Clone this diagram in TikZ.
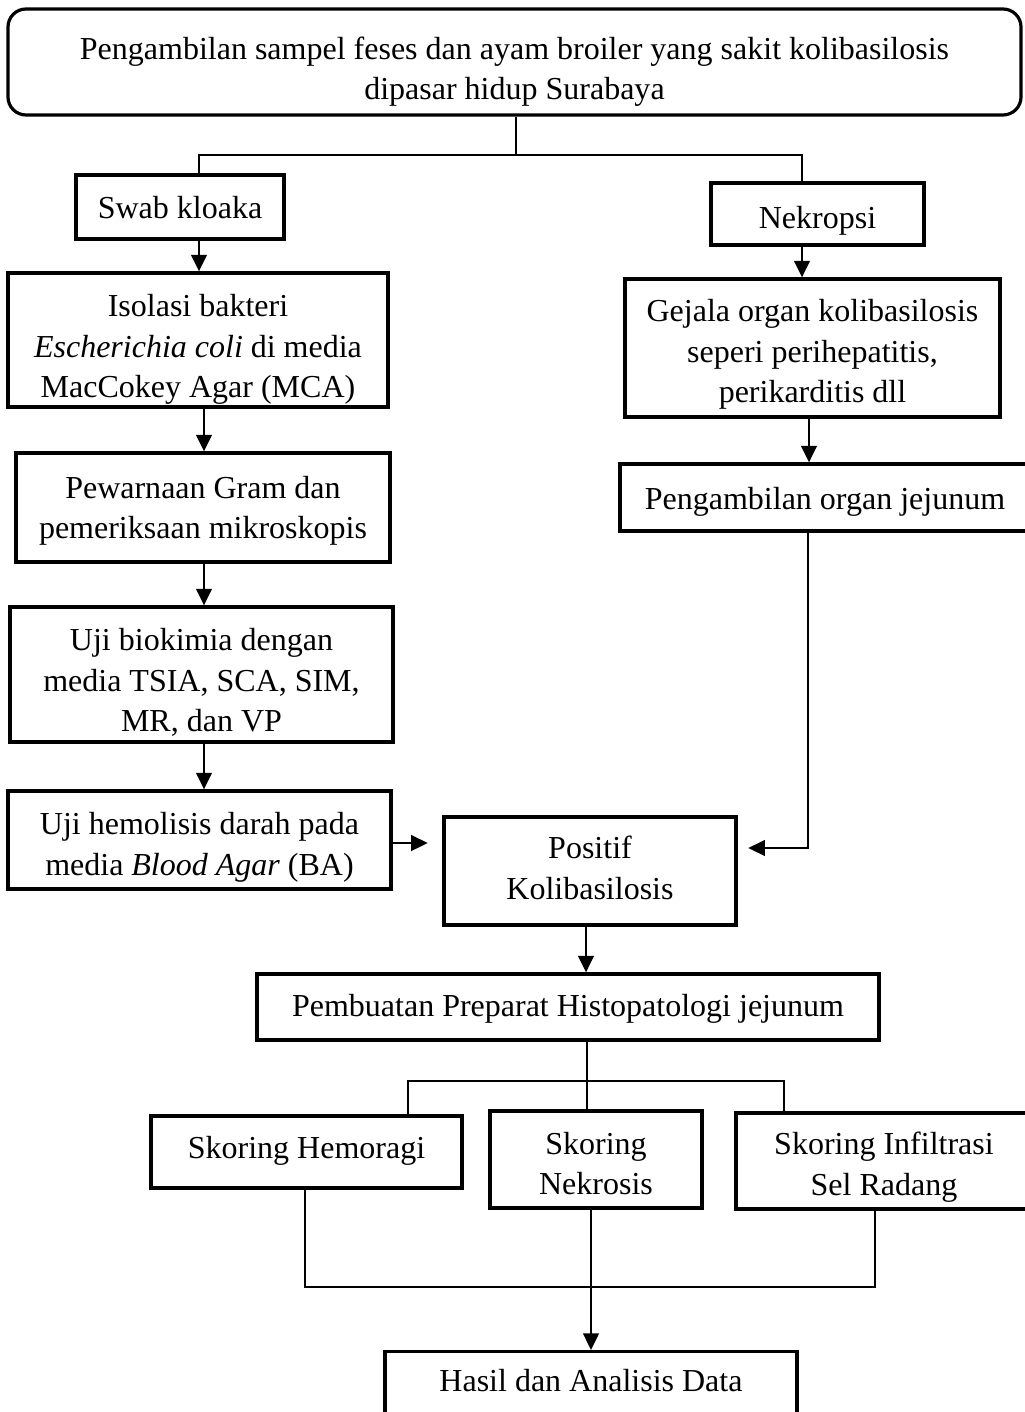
\documentclass[tikz,border=0pt]{standalone}
\usepackage{fontspec}
\setmainfont{Liberation Serif}
\usetikzlibrary{arrows.meta}
\begin{document}
\begin{tikzpicture}[x=0.375pt,y=-0.375pt,
  font=\fontsize{12pt}{15.2pt}\selectfont,
  box/.style 2 args={draw, line width=1.2pt, align=center, inner sep=0pt,
    minimum width=#1*0.375pt, minimum height=#2*0.375pt},
  td/.style 2 args={text height=#1, text depth=#2},
  conn/.style={line width=1pt},
  arr/.style={line width=1pt, -{Triangle[length=6.2pt,width=5.8pt]}}]
\useasboundingbox (0,0) rectangle (1024,1412);

% nodes
\node[box={1013}{106}, rounded corners=6.75pt, td={28.5pt}{0pt}] (top) at (514.5,62)
  {Pengambilan sampel feses dan ayam broiler yang sakit kolibasilosis\\dipasar hidup Surabaya};
\node[box={208}{64}, td={12pt}{3.4pt}] (swab) at (180,207) {Swab kloaka};
\node[box={213}{62}, td={12pt}{1.1pt}] (nek) at (817.5,214) {Nekropsi};
\node[box={380}{134}, td={43.2pt}{0pt}] (iso) at (198,340)
  {Isolasi bakteri\\\textit{Escherichia coli} di media\\MacCokey Agar (MCA)};
\node[box={375}{138}, td={41pt}{0pt}] (gej) at (812.5,348)
  {Gejala organ kolibasilosis\\seperi perihepatitis,\\perikarditis dll};
\node[box={374}{109}, td={23.6pt}{0pt}] (pew) at (203,507.5)
  {Pewarnaan Gram dan\\pemeriksaan mikroskopis};
\node[box={410}{67}, td={12pt}{3pt}] (porg) at (825,497.5) {Pengambilan organ jejunum};
\node[box={383}{135}, td={42.8pt}{0pt}] (uji) at (201.5,674.5)
  {Uji biokimia dengan\\media TSIA, SCA, SIM,\\MR, dan VP};
\node[box={383}{98}, td={26.3pt}{0pt}] (hem) at (199.5,840)
  {Uji hemolisis darah pada\\media \textit{Blood Agar} (BA)};
\node[box={292}{108}, td={21pt}{0pt}] (pos) at (590,871) {Positif\\Kolibasilosis};
\node[box={622}{66}, td={12pt}{4.9pt}] (pemb) at (568,1007) {Pembuatan Preparat Histopatologi jejunum};
\node[box={311}{72}, td={12pt}{7.1pt}] (shem) at (306.5,1152) {Skoring Hemoragi};
\node[box={212}{97}, td={26.6pt}{0pt}] (snek) at (596,1159.5) {Skoring\\Nekrosis};
\node[box={296}{96}, td={25.5pt}{0pt}] (sinf) at (884,1161) {Skoring Infiltrasi\\Sel Radang};
\node[box={412}{0}, anchor=north, td={15pt}{32pt}] (hasil) at (591,1350)
  {Hasil dan Analisis Data};

% junction / routing coordinates
\coordinate (s1) at (516,155);
\coordinate (ax1) at (199,0);
\coordinate (ax2) at (802,0);
\coordinate (ax3) at (204,0);
\coordinate (ax4) at (809,0);
\coordinate (ay1) at (0,843);
\coordinate (ay2) at (0,848);
\coordinate (ax5) at (808,0);
\coordinate (ax6) at (586,0);
\coordinate (s2) at (587,1081);
\coordinate (ax7) at (408,0);
\coordinate (ax8) at (784,0);
\coordinate (ax9) at (305,0);
\coordinate (ax10) at (875,0);
\coordinate (s3) at (591,1287);

% connectors
\draw[conn] (top.south -| s1) -- (s1);
\draw[conn] (swab.north -| ax1) |- (s1) -| (nek.north -| ax2);
\draw[arr] (swab.south -| ax1) -- (iso.north -| ax1);
\draw[arr] (nek.south -| ax2) -- (gej.north -| ax2);
\draw[arr] (iso.south -| ax3) -- (pew.north -| ax3);
\draw[arr] (gej.south -| ax4) -- (porg.north -| ax4);
\draw[arr] (pew.south -| ax3) -- (uji.north -| ax3);
\draw[arr] (uji.south -| ax3) -- (hem.north -| ax3);
\draw[arr] (hem.east |- ay1) -- ([xshift=-5.5pt]pos.west |- ay1);
\draw[arr] (porg.south -| ax5) |- ([xshift=4pt]pos.east |- ay2);
\draw[arr] (pos.south -| ax6) -- (pemb.north -| ax6);
\draw[conn] (pemb.south -| s2) -- (snek.north -| s2);
\draw[conn] (shem.north -| ax7) |- (s2) -| (sinf.north -| ax8);
\draw[conn] (shem.south -| ax9) |- (s3) -| (sinf.south -| ax10);
\draw[arr] (snek.south -| s3) -- (hasil.north -| s3);
\end{tikzpicture}
\end{document}
